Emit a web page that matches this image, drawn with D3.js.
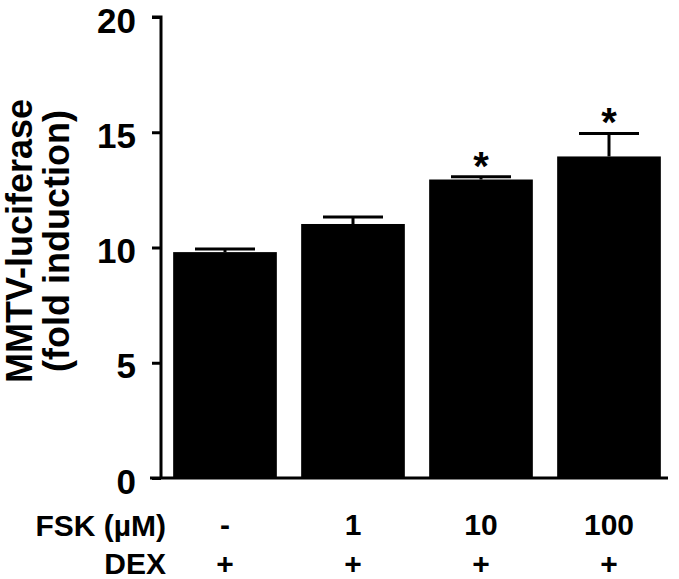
<!DOCTYPE html>
<html>
<head>
<meta charset="utf-8">
<script src="https://cdn.jsdelivr.net/npm/d3@7"></script>
<style>
  body { margin: 0; background: #fff; }
  svg text { font-family: "Liberation Sans", Arial, sans-serif; font-weight: bold; fill: #000; }
</style>
</head>
<body>
<svg id="chart" width="679" height="579"></svg>
<script>
const categories = ["-", "1", "10", "100"];
const dexLabels = ["+", "+", "+", "+"];
const means = [9.8, 11.02, 12.95, 13.95];
const sems = [0.14, 0.3, 0.12, 1.0];
const significant = [false, false, true, true];
const yTicks = [0, 5, 10, 15, 20];

const svg = d3.select("#chart");
const y = d3.scaleLinear().domain([0, 20]).range([478, 17]);
const x = d3.scaleBand().domain(categories).range([161, 673]).paddingInner(0.19).paddingOuter(0.095);

// bars
svg.selectAll("rect.bar").data(means).enter().append("rect")
  .attr("x", (d, i) => x(categories[i]))
  .attr("y", d => y(d))
  .attr("width", x.bandwidth())
  .attr("height", d => y(0) - y(d))
  .attr("fill", "#000");

// error bars (upper only)
const capW = 60;
means.forEach((m, i) => {
  const cx = x(categories[i]) + x.bandwidth() / 2;
  svg.append("line").attr("x1", cx).attr("x2", cx)
    .attr("y1", y(m)).attr("y2", y(m + sems[i]))
    .attr("stroke", "#000").attr("stroke-width", 3);
  svg.append("line").attr("x1", cx - capW / 2).attr("x2", cx + capW / 2)
    .attr("y1", y(m + sems[i])).attr("y2", y(m + sems[i]))
    .attr("stroke", "#000").attr("stroke-width", 3);
  if (significant[i]) {
    svg.append("text").attr("x", cx).attr("y", y(m + sems[i]) + 3)
      .attr("text-anchor", "middle").style("font-size", "40px").text("*");
  }
});

// y axis
const yAxis = d3.axisLeft(y).tickValues(yTicks).tickSize(9).tickPadding(16).tickFormat(d3.format("d"));
const gy = svg.append("g").attr("transform", "translate(161,0)").call(yAxis);
gy.select(".domain").attr("stroke", "#000").attr("stroke-width", 3).attr("d", `M-9,${y(20)}H0V${y(0)}`);
gy.selectAll(".tick line").attr("stroke", "#000").attr("stroke-width", 3);
gy.selectAll(".tick text").style("font-size", "35px").attr("dy", "0.43em");

// x axis baseline
svg.append("line").attr("x1", 150).attr("x2", 668).attr("y1", y(0)).attr("y2", y(0))
  .attr("stroke", "#000").attr("stroke-width", 3);

// category labels
svg.selectAll("text.fsk").data(categories).enter().append("text")
  .attr("class", "fsk")
  .attr("x", d => x(d) + x.bandwidth() / 2).attr("y", 535)
  .attr("text-anchor", "middle").style("font-size", "30px").text(d => d);
svg.selectAll("text.dex").data(dexLabels).enter().append("text")
  .attr("class", "dex")
  .attr("x", (d, i) => x(categories[i]) + x.bandwidth() / 2).attr("y", 574)
  .attr("text-anchor", "middle").style("font-size", "30px").text(d => d);

svg.append("text").attr("x", 166).attr("y", 536).attr("text-anchor", "end")
  .style("font-size", "30px").text("FSK (\u00b5M)");
svg.append("text").attr("x", 166).attr("y", 574).attr("text-anchor", "end")
  .style("font-size", "30px").text("DEX");

// y title
const yt = svg.append("text").attr("transform", "translate(0,241) rotate(-90)")
  .attr("text-anchor", "middle").style("font-size", "36px");
yt.append("tspan").attr("x", 0).attr("y", 32).text("MMTV-luciferase");
yt.append("tspan").attr("x", 0).attr("y", 69).text("(fold induction)");
</script>
</body>
</html>
